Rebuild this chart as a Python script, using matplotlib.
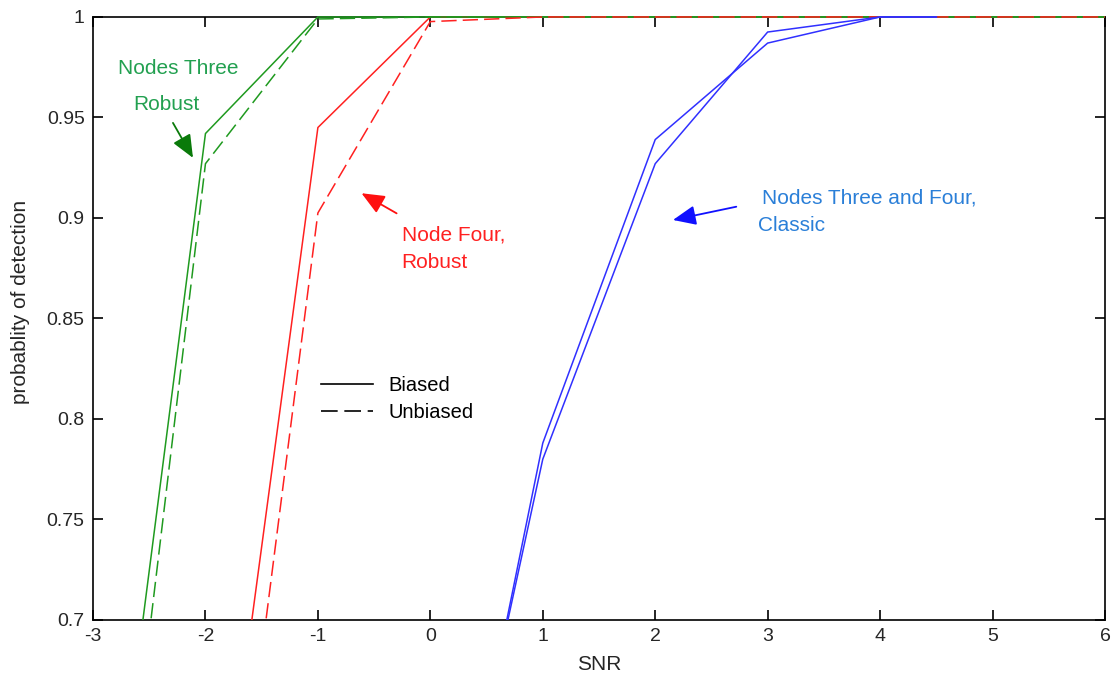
import numpy as np
import matplotlib
matplotlib.use('Agg')
import matplotlib.pyplot as plt
from matplotlib.lines import Line2D
from matplotlib.patches import Rectangle

plt.rcParams['font.family'] = ['Liberation Sans', 'DejaVu Sans']
plt.rcParams['axes.unicode_minus'] = False

# detection probability vs SNR
snr = [-3, -2, -1, 0, 1, 2, 3, 4, 5, 6]
green_biased = [0.507, 0.942, 1.0, 1.0, 1.0, 1.0, 1.0, 1.0, 1.0, 1.0]
green_unbiased = [0.459, 0.927, 0.999, 1.0, 1.0, 1.0, 1.0, 1.0, 1.0, 1.0]

snr_red = [-2, -1, 0, 1, 2, 3, 4, 5, 6]
red_biased = [0.528, 0.945, 1.0, 1.0, 1.0, 1.0, 1.0, 1.0, 1.0]
red_unbiased = [0.464, 0.9025, 0.9977, 1.0, 1.0, 1.0, 1.0, 1.0, 1.0]

snr_blue = [0, 1, 2, 3, 4, 4.5]
blue_a = [0.513, 0.788, 0.939, 0.987, 1.0, 1.0]
blue_b = [0.522, 0.780, 0.927, 0.9925, 1.0, 1.0]

xticks = [-3, -2, -1, 0, 1, 2, 3, 4, 5, 6]
yticks = [0.7, 0.75, 0.8, 0.85, 0.9, 0.95, 1.0]
ytick_labels = ['0.7', '0.75', '0.8', '0.85', '0.9', '0.95', '1']

fig = plt.figure(figsize=(11.14, 6.81), dpi=100)
ax = fig.add_axes([0.0835, 0.0896, 0.9084, 0.8855])

# let curves sitting on p=1 draw over the top frame line
clip = Rectangle((0, 0), 1, 1.01, transform=ax.transAxes, visible=False)
ax.add_patch(clip)

dash = (10, 4)
lw = 1.1
lines = []
lines += ax.plot(snr_red, red_biased, color='#ff2020', lw=lw)
lines += ax.plot(snr, green_biased, color='#1f9a1f', lw=lw)
lines += ax.plot(snr, green_unbiased, color='#1f9a1f', lw=lw, dashes=dash)
lines += ax.plot(snr_red, red_unbiased, color='#ff2020', lw=lw, dashes=dash)
lines += ax.plot(snr_blue, blue_a, color='#3030ff', lw=lw)
lines += ax.plot(snr_blue, blue_b, color='#3030ff', lw=lw)
for ln in lines:
    ln.set_zorder(3)
    ln.set_clip_path(clip)

ax.set_xlim(-3, 6)
ax.set_ylim(0.7, 1.0)
ax.set_xticks(xticks)
ax.set_yticks(yticks)
ax.set_yticklabels(ytick_labels)
ax.tick_params(direction='in', length=7, width=1.2, top=True, right=True,
               labelsize=14, labelcolor='#262626', pad=6)
for s in ax.spines.values():
    s.set_linewidth(1.2)
ax.set_xlabel('SNR', fontsize=15, color='#262626', labelpad=7)
ax.set_ylabel('probablity of detection', fontsize=15, color='#262626')
ax.yaxis.set_label_coords(-0.062, 0.527)

# annotations
arrow = '-|>,head_length=0.7,head_width=0.3'
ax.text(-2.778, 0.9746, 'Nodes Three', color='#22a050', fontsize=15, va='center')
ax.text(-2.644, 0.9562, 'Robust', color='#22a050', fontsize=15, va='center')
ax.annotate('', xy=(-2.111, 0.9299), xytext=(-2.289, 0.9473),
            arrowprops=dict(arrowstyle=arrow, color='#0a7a0a', lw=1.3,
                            mutation_scale=20, shrinkA=0, shrinkB=0))

ax.text(-0.256, 0.8915, 'Node Four,', color='#ff2020', fontsize=15, va='center')
ax.text(-0.256, 0.8776, 'Robust', color='#ff2020', fontsize=15, va='center')
ax.annotate('', xy=(-0.612, 0.9123), xytext=(-0.300, 0.9023),
            arrowprops=dict(arrowstyle=arrow, color='#ff1010', lw=1.3,
                            mutation_scale=20, shrinkA=0, shrinkB=0))

ax.text(2.95, 0.910, 'Nodes Three and Four,', color='#2a7fd8', fontsize=15, va='center')
ax.text(2.911, 0.8965, 'Classic', color='#2a7fd8', fontsize=15, va='center')
ax.annotate('', xy=(2.158, 0.899), xytext=(2.721, 0.9056),
            arrowprops=dict(arrowstyle=arrow, color='#1010ff', lw=1.3,
                            mutation_scale=20, shrinkA=0, shrinkB=0))

handles = [Line2D([], [], color='black', lw=1.2),
           Line2D([], [], color='black', lw=1.2, dashes=dash)]
ax.legend(handles, ['Biased', 'Unbiased'], loc='upper left',
          bbox_to_anchor=(0.2253, 0.405), frameon=False, fontsize=14.5,
          borderpad=0, borderaxespad=0, handlelength=2.6, handletextpad=0.75,
          labelspacing=0.4)

fig.savefig('out.png', dpi=100)
